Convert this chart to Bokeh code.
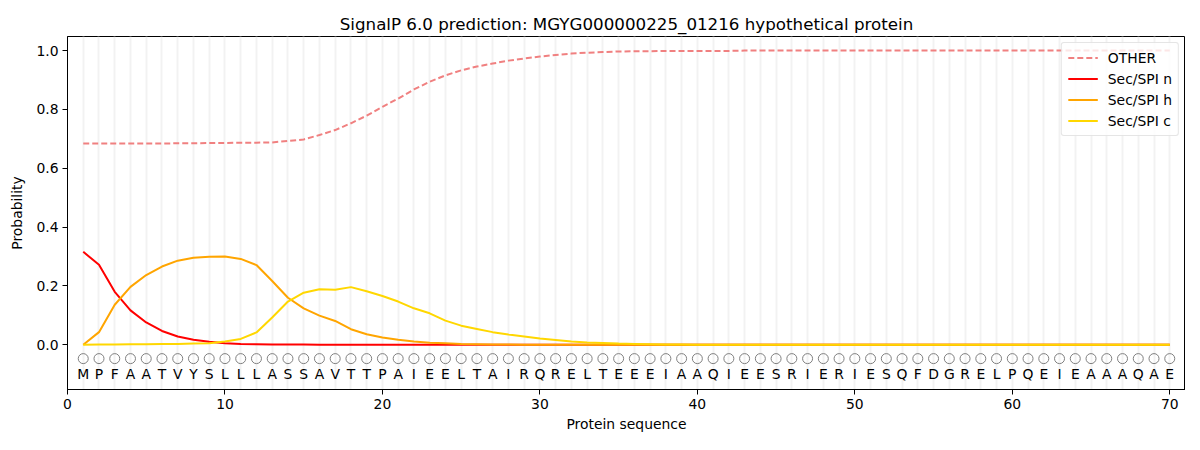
from bokeh.plotting import figure
from bokeh.models import Legend, LegendItem, FixedTicker, Range1d
from bokeh.core.properties import value
from bokeh.embed import file_html
from bokeh.resources import INLINE

residues = list("MPFAATVYSLLLASSAVTTPAIEELTAIRQRELTEEEIAAQIEESRIERIESQFDGRELPQEIEAAAQAE")
positions = list(range(1, len(residues) + 1))

other = [0.684, 0.684, 0.684, 0.684, 0.684, 0.684, 0.685, 0.685, 0.686, 0.686,
         0.687, 0.687, 0.688, 0.693, 0.698, 0.713, 0.730, 0.753, 0.779, 0.809,
         0.837, 0.868, 0.894, 0.916, 0.933, 0.946, 0.956, 0.966, 0.973, 0.980,
         0.985, 0.990, 0.993, 0.995, 0.997, 0.998, 0.998, 0.999, 0.999, 0.999,
         0.999, 0.999, 1.0, 1.0, 1.0, 1.0, 1.0, 1.0, 1.0, 1.0,
         1.0, 1.0, 1.0, 1.0, 1.0, 1.0, 1.0, 1.0, 1.0, 1.0,
         1.0, 1.0, 1.0, 1.0, 1.0, 1.0, 1.0, 1.0, 1.0, 1.0]
sec_n = [0.316, 0.272, 0.180, 0.117, 0.076, 0.047, 0.028, 0.017, 0.010, 0.005,
         0.003, 0.002, 0.001, 0.001, 0.001, 0.0, 0.0, 0.0, 0.0, 0.0] + [0.0] * 50
sec_h = [0.0, 0.043, 0.136, 0.197, 0.237, 0.266, 0.286, 0.296, 0.299, 0.300,
         0.292, 0.271, 0.217, 0.160, 0.124, 0.099, 0.081, 0.053, 0.036, 0.025,
         0.017, 0.011, 0.007, 0.005, 0.003, 0.002, 0.001, 0.001, 0.0, 0.0] + [0.0] * 40
sec_c = [0.0, 0.001, 0.001, 0.002, 0.002, 0.003, 0.003, 0.004, 0.005, 0.011,
         0.020, 0.042, 0.093, 0.147, 0.177, 0.189, 0.187, 0.196, 0.182, 0.166,
         0.147, 0.124, 0.107, 0.082, 0.065, 0.054, 0.043, 0.035, 0.028, 0.021,
         0.016, 0.011, 0.008, 0.006, 0.004, 0.003, 0.002, 0.001, 0.001, 0.0] + [0.0] * 30

FONT = "DejaVu Sans"

p = figure(width=1185, height=434, output_backend="svg", toolbar_location=None,
           x_range=Range1d(0, 71), y_range=Range1d(-0.152, 1.048),
           min_border_left=67, min_border_right=0, min_border_top=36, min_border_bottom=42)

p.title.text = "SignalP 6.0 prediction: MGYG000000225_01216 hypothetical protein"
p.title.text_font = FONT
p.title.text_font_size = "16.7px"
p.title.text_font_style = "normal"
p.title.text_color = "black"
p.title.align = "center"
p.title.offset = 0
p.title.standoff = 6

p.outline_line_color = "black"
p.outline_line_width = 1
p.background_fill_color = "white"

p.xgrid.ticker = FixedTicker(ticks=positions)
p.xgrid.grid_line_color = "#f2f2f2"
p.xgrid.grid_line_width = 2
p.ygrid.grid_line_color = None

p.xaxis.ticker = FixedTicker(ticks=[0, 10, 20, 30, 40, 50, 60, 70])
p.yaxis.ticker = FixedTicker(ticks=[0.0, 0.2, 0.4, 0.6, 0.8, 1.0])
p.yaxis.major_label_overrides = {0.0: "0.0", 0.2: "0.2", 0.4: "0.4", 0.6: "0.6", 0.8: "0.8", 1.0: "1.0"}
for ax in (p.xaxis[0], p.yaxis[0]):
    ax.major_tick_in = 0
    ax.major_tick_out = 5
    ax.major_tick_line_color = "black"
    ax.minor_tick_line_color = None
    ax.axis_line_color = "black"
    ax.major_label_text_font = FONT
    ax.major_label_text_font_size = "13.9px"
    ax.major_label_text_color = "black"
    ax.axis_label_text_font = FONT
    ax.axis_label_text_font_size = "13.9px"
    ax.axis_label_text_font_style = "normal"
    ax.axis_label_text_color = "black"
p.xaxis.axis_label = "Protein sequence"
p.yaxis.axis_label = "Probability"
p.xaxis.axis_label_standoff = 4
p.yaxis.axis_label_standoff = 8
p.xaxis.major_label_standoff = 4
p.yaxis.major_label_standoff = 4

r_other = p.line(positions, other, line_color="#f08080", line_width=2, line_dash="6 3")
r_n = p.line(positions, sec_n, line_color="red", line_width=2)
r_h = p.line(positions, sec_h, line_color="orange", line_width=2)
r_c = p.line(positions, sec_c, line_color="gold", line_width=2)

p.scatter(positions, [-0.047] * len(positions), marker="circle", size=10,
          fill_color=None, line_color="grey", line_width=1)
p.text(positions, [-0.1] * len(positions), text=residues, text_align="center",
       text_baseline="middle", text_font=value(FONT), text_font_size="13.9px",
       text_color="black")

legend = Legend(items=[
    LegendItem(label="OTHER", renderers=[r_other]),
    LegendItem(label="Sec/SPI n", renderers=[r_n]),
    LegendItem(label="Sec/SPI h", renderers=[r_h]),
    LegendItem(label="Sec/SPI c", renderers=[r_c]),
], location="top_right")
legend.label_text_font = FONT
legend.label_text_font_size = "13.9px"
legend.label_text_color = "black"
legend.border_line_color = "#cccccc"
legend.border_radius = 3
legend.background_fill_alpha = 0.8
legend.glyph_width = 30
legend.glyph_height = 17
legend.label_standoff = 10
legend.spacing = 4
legend.padding = 6
legend.margin = 6
legend.label_height = 17
p.add_layout(legend)

open("out.html", "w").write(file_html(p, INLINE))
